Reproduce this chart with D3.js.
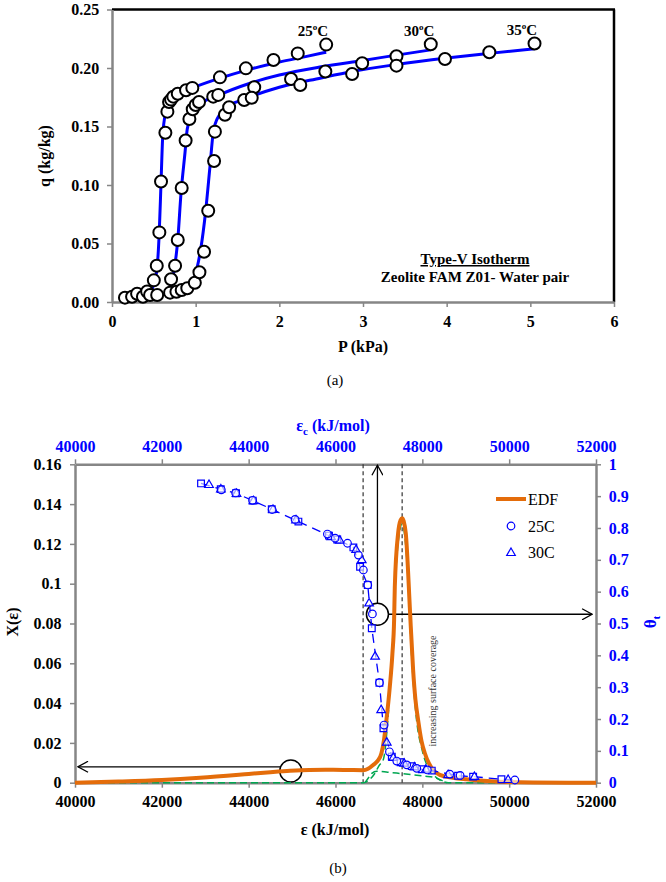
<!DOCTYPE html>
<html>
<head>
<meta charset="utf-8">
<script src="https://cdn.jsdelivr.net/npm/d3@7"></script>
<style>
html,body{margin:0;padding:0;background:#fff;}
svg{display:block;}
svg text{font-family:"Liberation Serif","Times New Roman",serif;}
</style>
</head>
<body>
<svg id="chart" width="666" height="882"></svg>
<script>
// ---------- Chart (a) data ----------
const pTicksA = [0,1,2,3,4,5,6];
const qTicksA = [0,0.05,0.10,0.15,0.20,0.25];
const pts25 = [[0.155,0.0037],[0.24,0.0045],[0.30,0.007],[0.37,0.0045],[0.42,0.009],[0.455,0.006],[0.54,0.006],[0.50,0.0185],[0.535,0.031],[0.566,0.0595],[0.586,0.103],[0.638,0.1447],[0.662,0.1627],[0.682,0.171],[0.706,0.173],[0.733,0.1755],[0.786,0.178],[0.885,0.181],[0.96,0.183],[1.29,0.192],[1.60,0.1997],[1.93,0.2068],[2.22,0.2125],[2.56,0.220]];
const pts30 = [[0.694,0.008],[0.706,0.0194],[0.754,0.031],[0.77,0.0088],[0.786,0.053],[0.833,0.0103],[0.833,0.0974],[0.90,0.0117],[0.88,0.138],[0.925,0.1564],[0.965,0.1647],[1.0,0.1684],[1.04,0.171],[1.21,0.1755],[1.27,0.177],[1.70,0.1835],[2.99,0.204],[3.40,0.210],[3.81,0.2203]];
const pts35 = [[0.99,0.0165],[1.045,0.0254],[1.10,0.043],[1.15,0.078],[1.22,0.1205],[1.23,0.1456],[1.35,0.16],[1.40,0.1664],[1.58,0.1726],[1.67,0.1746],[2.14,0.1906],[2.25,0.1855],[2.55,0.197],[2.87,0.1949],[3.40,0.202],[3.98,0.2077],[4.51,0.2134],[5.05,0.221]];
const fit25 = [[0.45,0.008],[0.5,0.015],[0.54,0.03],[0.565,0.06],[0.585,0.10],[0.605,0.14],[0.63,0.158],[0.66,0.167],[0.70,0.1726],[0.8,0.178],[1.0,0.184],[1.3,0.1915],[1.6,0.198],[2.0,0.205],[2.3,0.2095],[2.56,0.2135]];
const fit30 = [[0.70,0.012],[0.733,0.023],[0.786,0.053],[0.825,0.093],[0.873,0.128],[0.90,0.148],[0.96,0.161],[1.05,0.169],[1.25,0.176],[1.65,0.187],[2.0,0.194],[2.5,0.201],[3.0,0.2065],[3.4,0.211],[3.81,0.2155]];
const fit35 = [[0.95,0.012],[1.01,0.027],[1.06,0.045],[1.12,0.078],[1.17,0.115],[1.21,0.145],[1.26,0.157],[1.37,0.1665],[1.57,0.173],[2.0,0.1835],[2.5,0.1915],[2.87,0.197],[3.4,0.203],[4.0,0.2085],[4.51,0.2125],[5.05,0.2165]];
const tempLabels = [{t:"25",p:2.40,q:0.2275},{t:"30",p:3.67,q:0.2275},{t:"35",p:4.90,q:0.2285}];

// ---------- Chart (b) data ----------
const epsTicks = [40000,42000,44000,46000,48000,50000,52000];
const xTicksB = [0,0.02,0.04,0.06,0.08,0.10,0.12,0.14,0.16];
const thTicks = [0,0.1,0.2,0.3,0.4,0.5,0.6,0.7,0.8,0.9,1];
const edf = [[40000,0],[41000,0.0006],[42000,0.0014],[42880,0.0025],[44000,0.0044],[44500,0.0053],[44954,0.006],[45400,0.0064],[45950,0.0065],[46300,0.0064],[46636,0.0063],[46750,0.0070],[46866,0.0089],[46970,0.011],[47058,0.0148],[47120,0.022],[47173,0.0315],[47250,0.048],[47311,0.065],[47350,0.0818],[47366,0.0985],[47442,0.1253],[47500,0.1320],[47535,0.1329],[47570,0.1315],[47619,0.1253],[47711,0.0884],[47726,0.0818],[47788,0.0566],[47840,0.042],[47903,0.0315],[47980,0.021],[48058,0.0148],[48150,0.0098],[48249,0.0064],[48402,0.0039],[48700,0.0025],[49016,0.0017],[49400,0.0010],[49784,0.0005],[50550,0.0001],[52000,0]];
const greenSharp = [[40000,0],[46650,0],[46750,0.001],[46900,0.0045],[47000,0.0085],[47104,0.0118],[47200,0.03],[47300,0.065],[47400,0.11],[47535,0.13],[47650,0.11],[47750,0.065],[47850,0.035],[48000,0.016],[48150,0.007],[48300,0.003],[48450,0.0008],[48600,0],[52000,0]];
const greenBroad = [[46680,0],[46760,0.0025],[46836,0.0047],[46950,0.0058],[47200,0.0053],[47500,0.0046],[47800,0.0039],[48050,0.0033],[48250,0.0028],[48380,0.0018],[48480,0.0008],[48560,0]];
const th25 = [[43370,0.920],[43700,0.910],[44090,0.887],[44540,0.858],[45069,0.827],[45813,0.781],[45991,0.768],[46277,0.752],[46528,0.715],[46642,0.668],[46743,0.621],[46850,0.530],[47012,0.314],[47119,0.181],[47242,0.097],[47411,0.068],[47641,0.056],[47872,0.045],[48116,0.040],[48632,0.027],[48870,0.023],[50131,0.0085]];
const th30 = [[43087,0.935],[43360,0.921],[43720,0.907],[44110,0.884],[44560,0.857],[45090,0.824],[45900,0.771],[46100,0.760],[46474,0.731],[46605,0.699],[46774,0.563],[46912,0.396],[47051,0.228],[47181,0.126],[47330,0.078],[47580,0.060],[47820,0.048],[48080,0.041],[48594,0.024],[49200,0.018],[49976,0.0085]];
const th35 = [[42903,0.940],[43357,0.922],[43709,0.909],[44094,0.886],[44532,0.859],[45145,0.820],[45850,0.776],[46040,0.764],[46412,0.739],[46566,0.678],[46743,0.621],[46836,0.485],[47012,0.314],[47104,0.171],[47297,0.082],[47500,0.064],[47756,0.052],[47987,0.042],[48217,0.038],[48823,0.022],[49170,0.019],[49822,0.011],[50131,0.0085]];
const vLines = [46636,47535];
const legendItems = ["EDF","25C","30C"];

const svg = d3.select("#chart");
const BLUE = "#0000ff", ORANGE = "#e46c0a", GRAY = "#868686", GREEN = "#00a651";

// ================= Chart (a) =================
const xA = d3.scaleLinear().domain([0,6]).range([112,614]);
const yA = d3.scaleLinear().domain([0,0.25]).range([302,9.5]);
const gA = svg.append("g");

gA.append("line").attr("x1",xA(0)).attr("x2",xA(6)+1).attr("y1",yA(0.25)).attr("y2",yA(0.25)).attr("stroke","#000").attr("stroke-width",2.5);
gA.append("line").attr("x1",xA(6)).attr("x2",xA(6)).attr("y1",yA(0.25)).attr("y2",yA(0)).attr("stroke","#000").attr("stroke-width",2.5);

const axA_x = gA.append("g").attr("transform",`translate(0,${yA(0)})`)
  .call(d3.axisBottom(xA).tickValues(pTicksA).tickFormat(d3.format("d")).tickSize(5).tickSizeOuter(0));
const axA_y = gA.append("g").attr("transform",`translate(${xA(0)},0)`)
  .call(d3.axisLeft(yA).tickValues(qTicksA).tickFormat(d3.format(".2f")).tickSize(5).tickSizeOuter(0));
[axA_x,axA_y].forEach(a=>{
  a.select(".domain").attr("stroke",GRAY).attr("stroke-width",2.5);
  a.selectAll(".tick line").attr("stroke",GRAY).attr("stroke-width",1.5);
  a.selectAll("text").attr("font-size",16).attr("font-weight","bold").attr("fill","#000");
});
axA_x.selectAll("text").attr("dy","1.05em");
axA_y.selectAll("text").attr("dx","-0.3em");

const lineA = d3.line().x(d=>xA(d[0])).y(d=>yA(d[1])).curve(d3.curveMonotoneX);
[fit25,fit30,fit35].forEach(f=>{
  gA.append("path").attr("d",lineA(f)).attr("fill","none").attr("stroke",BLUE).attr("stroke-width",3);
});
[pts25,pts30,pts35].forEach(s=>{
  gA.selectAll(null).data(s).enter().append("circle")
    .attr("cx",d=>xA(d[0])).attr("cy",d=>yA(d[1])).attr("r",6)
    .attr("fill","#fff").attr("stroke","#000").attr("stroke-width",2);
});
tempLabels.forEach(l=>{
  const t = gA.append("text").attr("x",xA(l.p)).attr("y",yA(l.q)).attr("text-anchor","middle")
    .attr("font-size",15).attr("font-weight","bold");
  t.append("tspan").text(l.t);
  t.append("tspan").attr("font-size",9).attr("dy",-6).text("o");
  t.append("tspan").attr("dy",6).text("C");
});
gA.append("text").attr("x",475).attr("y",264).attr("text-anchor","middle").attr("font-size",15).attr("font-weight","bold")
  .attr("text-decoration","underline").text("Type-V Isotherm");
gA.append("text").attr("x",475).attr("y",282).attr("text-anchor","middle").attr("font-size",15).attr("font-weight","bold")
  .text("Zeolite FAM Z01- Water pair");
gA.append("text").attr("transform","translate(50,156) rotate(-90)").attr("text-anchor","middle").attr("font-size",16).attr("font-weight","bold").text("q (kg/kg)");
gA.append("text").attr("x",363).attr("y",352).attr("text-anchor","middle").attr("font-size",16).attr("font-weight","bold").text("P (kPa)");
gA.append("text").attr("x",335).attr("y",385).attr("text-anchor","middle").attr("font-size",15).text("(a)");

// ================= Chart (b) =================
const xB = d3.scaleLinear().domain([40000,52000]).range([75,596]);
const yB = d3.scaleLinear().domain([0,0.16]).range([782.7,464.3]);
const yR = d3.scaleLinear().domain([0,1]).range([782.7,464.3]);
const gB = svg.append("g");

const defs = svg.append("defs");
defs.append("marker").attr("id","arr").attr("viewBox","0 0 12 12").attr("refX",11).attr("refY",6)
  .attr("markerWidth",12).attr("markerHeight",12).attr("markerUnits","userSpaceOnUse").attr("orient","auto")
  .append("path").attr("d","M1,0.5 L11,6 L1,11.5").attr("fill","none").attr("stroke","#000").attr("stroke-width",1.3);

const axB_b = gB.append("g").attr("transform",`translate(0,${yB(0)})`)
  .call(d3.axisBottom(xB).tickValues(epsTicks).tickFormat(d3.format("d")).tickSize(5).tickSizeOuter(0));
const axB_t = gB.append("g").attr("transform",`translate(0,${yB(0.16)})`)
  .call(d3.axisTop(xB).tickValues(epsTicks).tickFormat(d3.format("d")).tickSize(5).tickSizeOuter(0));
const axB_l = gB.append("g").attr("transform",`translate(${xB(40000)},0)`)
  .call(d3.axisLeft(yB).tickValues(xTicksB).tickFormat(d=>String(+d.toFixed(2))).tickSize(5).tickSizeOuter(0));
const axB_r = gB.append("g").attr("transform",`translate(${xB(52000)},0)`)
  .call(d3.axisRight(yR).tickValues(thTicks).tickFormat(d=>String(+d.toFixed(1))).tickSize(5).tickSizeOuter(0));
[axB_b,axB_t,axB_l,axB_r].forEach(a=>{
  a.select(".domain").attr("stroke",GRAY).attr("stroke-width",2.5);
  a.selectAll(".tick line").attr("stroke",GRAY).attr("stroke-width",1.5);
  a.selectAll("text").attr("font-size",16).attr("font-weight","bold").attr("fill","#000");
});
axB_t.selectAll("text").attr("fill",BLUE);
axB_r.selectAll("text").attr("fill",BLUE).attr("dx","0.3em");
axB_b.selectAll("text").attr("dy","1.05em");
axB_l.selectAll("text").attr("dx","-0.35em");
axB_t.selectAll("text").attr("dy","-0.25em");

vLines.forEach(v=>{
  gB.append("line").attr("x1",xB(v)).attr("x2",xB(v)).attr("y1",yB(0.16)).attr("y2",yB(0))
    .attr("stroke","#333").attr("stroke-width",1.2).attr("stroke-dasharray","4,3");
});

const cU = {e:46966, th:0.529}, cL = {e:44970, x:0.0059};
const rC = 11;
gB.append("line").attr("x1",xB(cU.e)).attr("x2",xB(cU.e)).attr("y1",yR(cU.th)-rC).attr("y2",yB(0.16)+1)
  .attr("stroke","#000").attr("stroke-width",1.3).attr("marker-end","url(#arr)");
gB.append("line").attr("x1",xB(cU.e)+rC).attr("x2",xB(51910)).attr("y1",yR(cU.th)).attr("y2",yR(cU.th))
  .attr("stroke","#000").attr("stroke-width",1.3).attr("marker-end","url(#arr)");
gB.append("circle").attr("cx",xB(cU.e)).attr("cy",yR(cU.th)).attr("r",rC).attr("fill","none").attr("stroke","#000").attr("stroke-width",1.5);
gB.append("line").attr("x1",xB(cL.e)-rC+0.5).attr("x2",xB(40070)).attr("y1",yB(0.008)).attr("y2",yB(0.008))
  .attr("stroke","#000").attr("stroke-width",1.3).attr("marker-end","url(#arr)");
gB.append("circle").attr("cx",xB(cL.e)).attr("cy",yB(cL.x)).attr("r",rC).attr("fill","none").attr("stroke","#000").attr("stroke-width",1.5);

const lineB = d3.line().x(d=>xB(d[0])).y(d=>yB(d[1])).curve(d3.curveMonotoneX);
[greenSharp,greenBroad].forEach(g=>{
  gB.append("path").attr("d",lineB(g)).attr("fill","none").attr("stroke",GREEN).attr("stroke-width",1.5).attr("stroke-dasharray","7,4");
});
gB.append("path").attr("d",lineB(edf)).attr("fill","none").attr("stroke",ORANGE).attr("stroke-width",4).attr("stroke-linejoin","round");

// one dashed connecting line (the three series overlap)
const lineT = d3.line().x(d=>xB(d[0])).y(d=>yR(d[1]));
gB.append("path").attr("d",lineT(th35)).attr("fill","none").attr("stroke",BLUE).attr("stroke-width",1.3).attr("stroke-dasharray","9,6");

const tri = d3.symbol().type(d3.symbolTriangle).size(32);
const sq = d3.symbol().type(d3.symbolSquare).size(45);
gB.selectAll(null).data(th35.slice(0,-1)).enter().append("path").attr("d",sq)
  .attr("transform",d=>`translate(${xB(d[0])},${yR(d[1])})`).attr("fill","#fff").attr("fill-opacity",0.6).attr("stroke",BLUE).attr("stroke-width",1.2);
gB.selectAll(null).data(th30).enter().append("path").attr("d",tri)
  .attr("transform",d=>`translate(${xB(d[0])},${yR(d[1])})`).attr("fill","#fff").attr("fill-opacity",0.6).attr("stroke",BLUE).attr("stroke-width",1.2);
gB.selectAll(null).data(th25).enter().append("circle").attr("cx",d=>xB(d[0])).attr("cy",d=>yR(d[1])).attr("r",3.8)
  .attr("fill","#fff").attr("fill-opacity",0.6).attr("stroke",BLUE).attr("stroke-width",1.2);

gB.append("text").attr("transform","translate(436,691) rotate(-90)").attr("text-anchor","middle")
  .attr("font-size",10).attr("fill","#333").text("increasing surface coverage");

const lg = gB.append("g");
lg.append("line").attr("x1",496).attr("x2",526).attr("y1",499).attr("y2",499).attr("stroke",ORANGE).attr("stroke-width",4);
lg.append("circle").attr("cx",511).attr("cy",526).attr("r",3.8).attr("fill","#fff").attr("stroke",BLUE).attr("stroke-width",1.2);
lg.append("path").attr("d",tri).attr("transform","translate(511,553)").attr("fill","#fff").attr("stroke",BLUE).attr("stroke-width",1.2);
legendItems.forEach((t,i)=>{
  lg.append("text").attr("x",528).attr("y",[504.5,531.5,558][i]).attr("font-size",16).text(t);
});

const tTop = gB.append("text").attr("x",333).attr("y",431).attr("text-anchor","middle").attr("font-size",16).attr("font-weight","bold").attr("fill",BLUE);
tTop.append("tspan").text("ε");
tTop.append("tspan").attr("font-size",11).attr("dy",4).text("c");
tTop.append("tspan").attr("dy",-4).text(" (kJ/mol)");
gB.append("text").attr("x",335).attr("y",835).attr("text-anchor","middle").attr("font-size",16).attr("font-weight","bold").text("ε (kJ/mol)");
gB.append("text").attr("transform","translate(18,622) rotate(-90)").attr("text-anchor","middle").attr("font-size",16).attr("font-weight","bold").text("X(ε)");
const tR = gB.append("text").attr("transform","translate(656,622) rotate(-90)").attr("text-anchor","middle").attr("font-size",17).attr("font-weight","bold").attr("fill",BLUE);
tR.append("tspan").text("θ");
tR.append("tspan").attr("font-size",11).attr("dy",4).text("t");
gB.append("text").attr("x",338).attr("y",873).attr("text-anchor","middle").attr("font-size",15).text("(b)");
</script>
</body>
</html>
